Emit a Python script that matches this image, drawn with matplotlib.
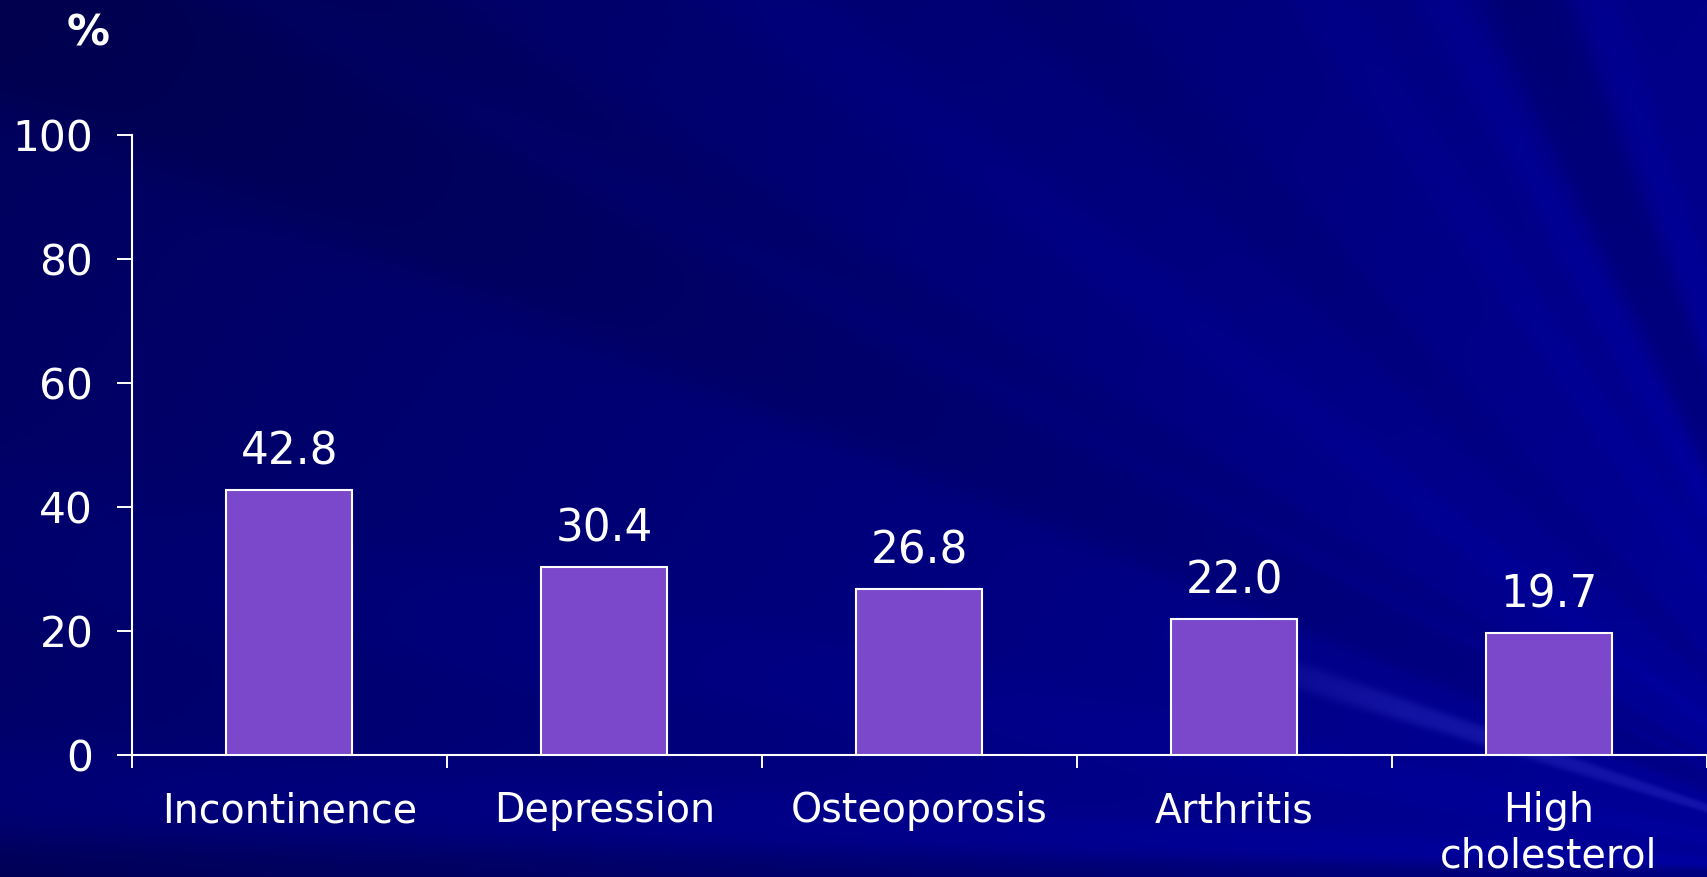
import numpy as np
import matplotlib
matplotlib.use("Agg")
import matplotlib.pyplot as plt

# ---- data -------------------------------------------------------------
categories = ["Incontinence", "Depression", "Osteoporosis", "Arthritis", "High\ncholesterol"]
values = [42.8, 30.4, 26.8, 22.0, 19.7]
y_ticks = [0, 20, 40, 60, 80, 100]
unit_label = "%"

# ---- figure -----------------------------------------------------------
W, H, DPI = 1707, 877, 100
fig = plt.figure(figsize=(W / DPI, H / DPI), dpi=DPI)

# Navy slide backdrop with soft rays fanning out from beyond the lower-right corner
bg = fig.add_axes([0, 0, 1, 1], zorder=-10)
yy, xx = np.mgrid[0:H, 0:W].astype(float)
fx, fy = 1900.0, 870.0
theta = np.degrees(np.arctan2(fy - yy, fx - xx))

blue = 0x5c + 0x2c * (xx / W) + 0x10 * (yy / H)


def band(lo, hi, soft=0.4):
    return 1 / (1 + np.exp(-(theta - lo) / soft)) * (1 - 1 / (1 + np.exp(-(theta - hi) / soft)))


ray_bands = [
    (-8.0, 0.9, -0x18),
    (0.9, 3.8, 0x0a),
    (8.0, 12.0, 0x06),
    (22.0, 27.5, -0x0e),
    (28.5, 31.0, -0x0a),
    (36.0, 39.0, 0x08),
    (44.0, 48.0, -0x08),
    (55.0, 58.0, 0x08),
    (61.0, 63.5, 0x0c),
    (64.5, 69.0, -0x10),
    (69.5, 72.0, 0x0a),
]
for lo, hi, delta in ray_bands:
    blue = blue + delta * band(lo, hi)

# the one pale streak crossing the lower-right corner
streak = band(16.8, 19.0, soft=0.25) * np.clip((xx - 1150) / 250, 0, 1)
blue = blue + 0x16 * streak
blue = np.clip(blue, 0, 255) / 255.0
red = 0x14 / 255.0 * streak
img = np.dstack([red, red, blue])
bg.imshow(img, extent=[0, W, H, 0], aspect="auto", interpolation="bilinear")
bg.set_xlim(0, W)
bg.set_ylim(H, 0)
bg.axis("off")

# ---- bar chart --------------------------------------------------------
plt.rcParams["font.family"] = ["DejaVu Sans"]
white = "white"

ax = fig.add_axes([132 / W, 122 / H, 1574.5 / W, 620 / H])
ax.set_facecolor("none")

x = np.arange(len(categories))
ax.bar(x, values, width=0.40, color="#7B48CC", edgecolor=white, linewidth=1.5, zorder=3)

for xi, v in zip(x, values):
    ax.annotate(f"{v:.1f}", (xi, v), xytext=(0, 18), textcoords="offset points",
                ha="center", va="baseline", fontsize=31.5, color=white)

ax.set_xlim(-0.5, len(categories) - 0.5)
ax.set_ylim(0, 100)
ax.set_yticks(y_ticks)
ax.set_yticklabels([str(t) for t in y_ticks])
ax.set_xticks(x)
ax.set_xticklabels(categories, fontsize=28.5, color=white, linespacing=1.17)
ax.set_xticks(np.arange(-0.5, len(categories)), minor=True)

for side in ("top", "right"):
    ax.spines[side].set_visible(False)
for side in ("left", "bottom"):
    ax.spines[side].set_color(white)
    ax.spines[side].set_linewidth(1.5)

ax.tick_params(axis="y", direction="out", length=10.8, width=1.4, colors=white,
               labelsize=30.5, pad=17)
ax.tick_params(axis="x", which="major", length=0, pad=26, colors=white)
ax.tick_params(axis="x", which="minor", direction="out", length=9.4, width=1.4, color=white)

fig.text(88 / W, 1 - 33 / H, unit_label, ha="center", va="center",
         fontsize=31, fontweight="bold", color=white)

fig.savefig("out.png", dpi=DPI)
